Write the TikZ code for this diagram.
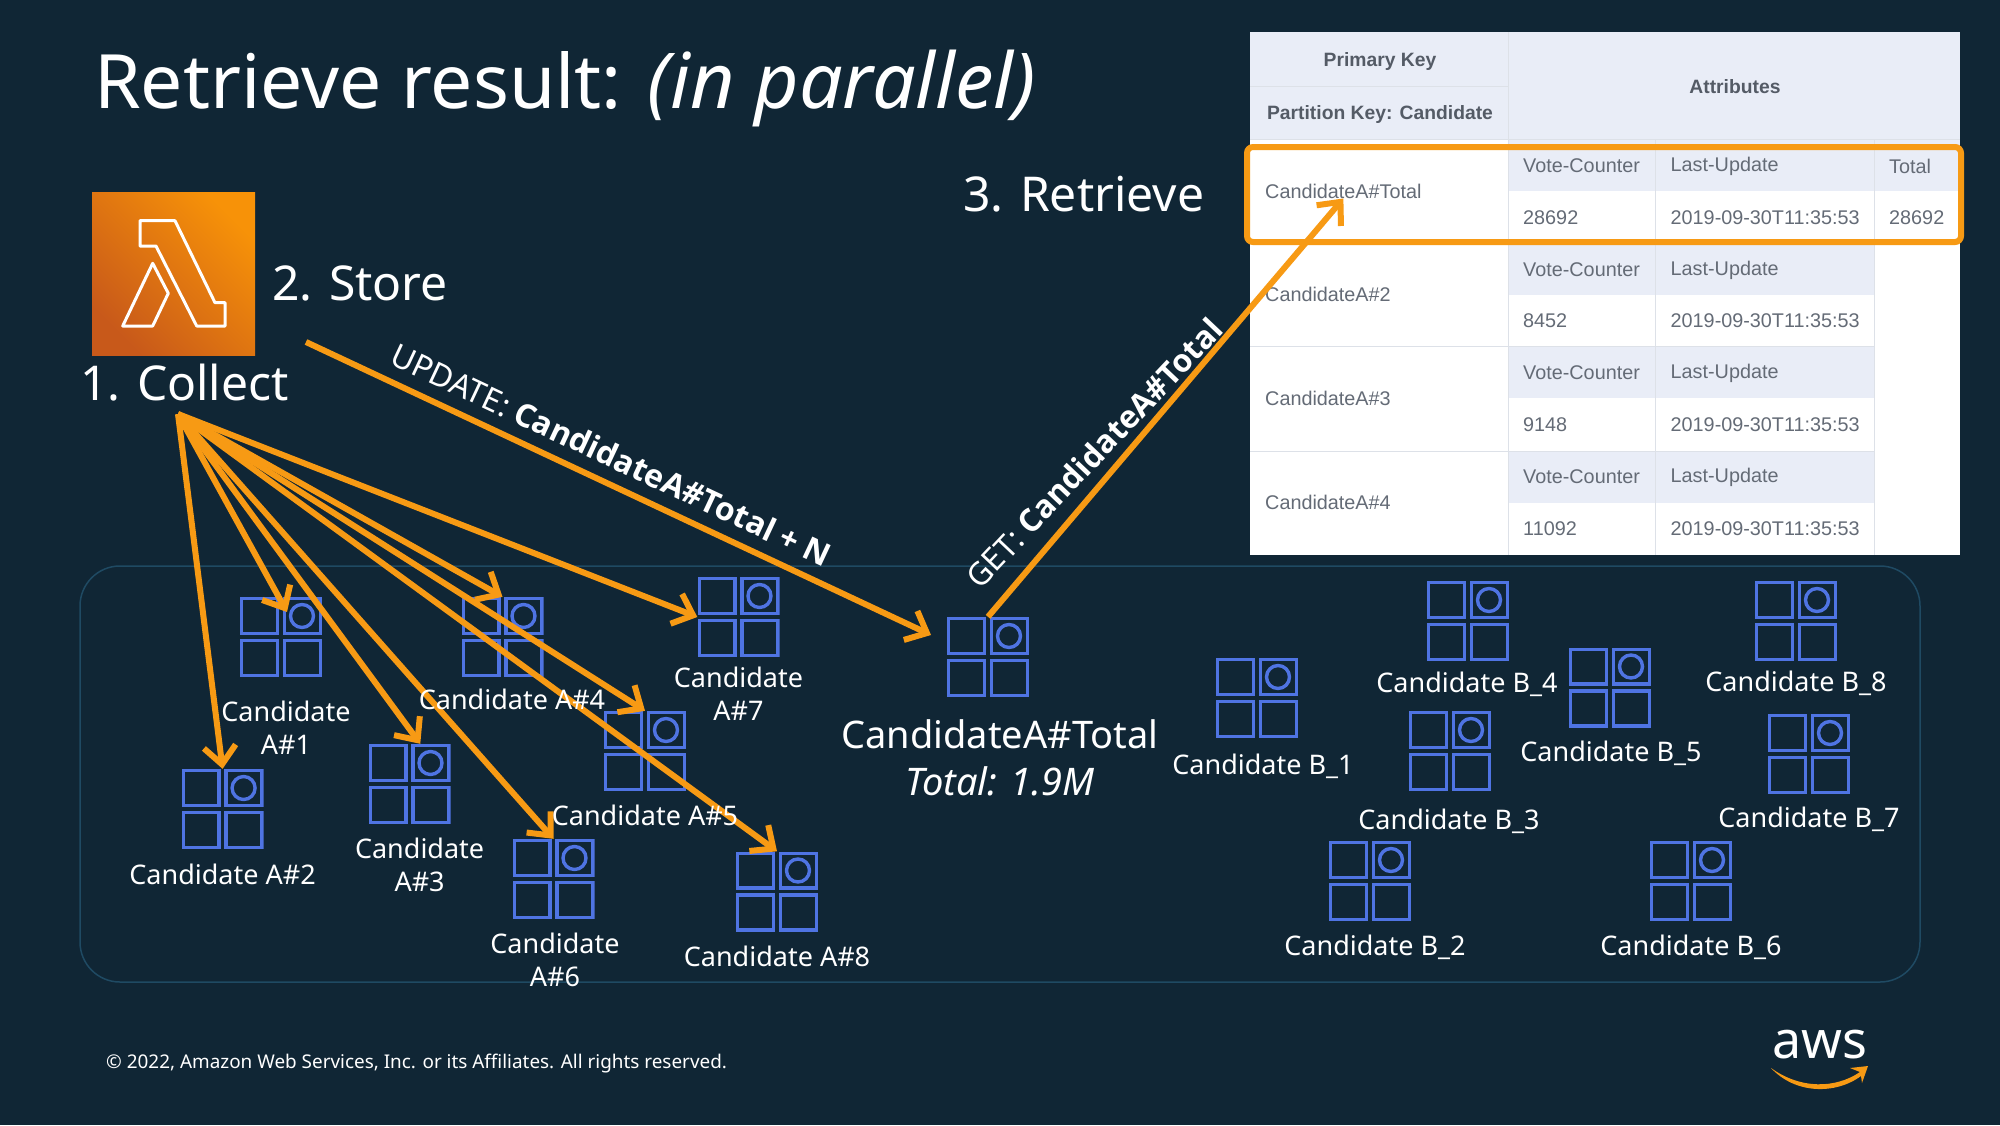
\documentclass[tikz,border=0pt]{standalone}
\usepackage{fontspec}
\setmainfont{Noto Sans}
\newfontfamily\tablefont{Liberation Sans}
\newfontfamily\edgebold{Open Sans}
\usepackage{tikz}
\usetikzlibrary{arrows.meta, positioning}
\definecolor{slidebg}{HTML}{102635}
\definecolor{awsorange}{HTML}{F79A14}
\definecolor{iconblue}{HTML}{4F74E3}
\definecolor{groupline}{HTML}{1F4A63}
\definecolor{headfill}{HTML}{E9EDF7}
\definecolor{gridline}{HTML}{DDE1E8}
\definecolor{celltext}{HTML}{646B76}
\definecolor{headtext}{HTML}{545B66}
\definecolor{lambdalow}{HTML}{C8591A}
\definecolor{lambdahigh}{HTML}{F79208}

\begin{document}
\begin{tikzpicture}[
      x=1pt, y=-1pt,
      dbicon/.style={minimum width=82pt, minimum height=80pt, inner sep=0pt, path picture={
        \begin{scope}[shift={(path picture bounding box.center)}, iconblue, line width=3.4pt]
          \draw (-39.3,-38.3) rectangle (-3.5,-3.5);
          \draw (3.5,-38.3) rectangle (39.3,-3.5);
          \draw (-39.3,3.5) rectangle (-3.5,38.3);
          \draw (3.5,3.5) rectangle (39.3,38.3);
          \draw (21,-21) circle (11.5pt);
        \end{scope}}},
      cand/.style={align=center, text=white, inner sep=0pt, font=\fontsize{27}{33}\selectfont},
      step text/.style={anchor=base west, text=white, inner sep=0pt, font=\fontsize{48}{52}\selectfont},
      cell/.style={anchor=west, inner sep=0pt, text=celltext, font=\tablefont\fontsize{19.8}{24}\selectfont},
      headcell/.style={inner sep=0pt, text=headtext, font=\tablefont\bfseries\fontsize{19.3}{24}\selectfont},
      edgetext/.style={text=white, inner sep=5pt, font=\fontsize{32}{36}\selectfont},
      arrow/.style={awsorange, line width=6pt, -{Straight Barb[length=18pt, width=32pt]}}
    ]
    \useasboundingbox (0,0) rectangle (2000,1125);
    \fill[slidebg] (0,0) rectangle (2000,1125);
    \node[anchor=base west, text=white, inner sep=0pt, font=\fontsize{75}{80}\selectfont] (title) at (94,108) {Retrieve result: {\fontsize{77}{80}\selectfont\textit{(in parallel)}}};
    \node[draw=groupline, line width=1.5pt, rounded corners=40pt, minimum width=1840pt, minimum height=416pt] (group) at (1000,774) {};

    % lambda box
    \node[minimum width=163pt, minimum height=163pt, inner sep=0pt, bottom color=lambdalow, top color=lambdahigh, shading angle=-45] (lambda) at (173.5,273.5) {};
    \draw[white, line width=3pt, line join=round] (140,220.7) -- (175,220.7) -- (215,302.7) -- (225,302.7) -- (225,326) -- (196.7,326) -- (156,246) -- (140,246) -- cycle;
    \draw[white, line width=3pt, line join=round] (152.7,263.3) -- (122.7,326) -- (152.7,326) -- (168.3,293.3) -- cycle;
    \node[step text] (collect) at (80,400) {1. Collect};
    \node[step text] (store) at (272,300) {2. Store};
    \node[step text] (retrieve) at (963,211) {3. Retrieve};

    % table
    \fill[headfill] (1250,32) rectangle (1960,139);
    \fill[white] (1250,139) rectangle (1960,555);
    \fill[headfill] (1508,139) rectangle (1960,191);
    \fill[headfill] (1508,241) rectangle (1874,295);
    \fill[headfill] (1508,346) rectangle (1874,398);
    \fill[headfill] (1508,451) rectangle (1874,503);
    \draw[gridline, line width=1pt] (1508,32) -- (1508,555);
    \draw[gridline, line width=1pt] (1655,139) -- (1655,555);
    \draw[gridline, line width=1pt] (1874,139) -- (1874,555);
    \draw[gridline, line width=1pt] (1250,86) -- (1508,86);
    \draw[gridline, line width=1pt] (1250,139) -- (1960,139);
    \draw[gridline, line width=1pt] (1250,241) -- (1874,241);
    \draw[gridline, line width=1pt] (1250,346) -- (1874,346);
    \draw[gridline, line width=1pt] (1250,451) -- (1874,451);
    \node[headcell] (pk) at (1380,61.5) {Primary Key};
    \node[headcell] (partkey) at (1380,115) {Partition Key: Candidate};
    \node[headcell] (attrs) at (1735,87) {Attributes};
    \node[cell] (keytotal) at (1265,191) {CandidateA\#Total};
    \node[cell] (key2) at (1265,294.5) {CandidateA\#2};
    \node[cell] (key3) at (1265,398) {CandidateA\#3};
    \node[cell] (key4) at (1265,502) {CandidateA\#4};
    \node[cell] (vote1) at (1523,166) {Vote-Counter};
    \node[cell] (last1) at (1670.5,166) {Last-Update};
    \node[cell] (tot1) at (1889,166) {Total};
    \node[cell] (val1) at (1523,218) {28692};
    \node[cell] (time1) at (1670.5,218) {2019-09-30T11:35:53};
    \node[cell] (totv1) at (1889,218) {28692};
    \node[cell] (vote2) at (1523,270) {Vote-Counter};
    \node[cell] (last2) at (1670.5,270) {Last-Update};
    \node[cell] (val2) at (1523,321) {8452};
    \node[cell] (time2) at (1670.5,321) {2019-09-30T11:35:53};
    \node[cell] (vote3) at (1523,373) {Vote-Counter};
    \node[cell] (last3) at (1670.5,373) {Last-Update};
    \node[cell] (val3) at (1523,425) {9148};
    \node[cell] (time3) at (1670.5,425) {2019-09-30T11:35:53};
    \node[cell] (vote4) at (1523,477) {Vote-Counter};
    \node[cell] (last4) at (1670.5,477) {Last-Update};
    \node[cell] (val4) at (1523,529) {11092};
    \node[cell] (time4) at (1670.5,529) {2019-09-30T11:35:53};
    \draw[awsorange, line width=6pt, rounded corners=6pt] (1247,147) rectangle (1961,242);

    % candidates A
    \node[dbicon] (a1) at (281,637) {};
    \node[dbicon] (a2) at (222.6,809) {};
    \node[dbicon] (a3) at (409.5,784) {};
    \node[dbicon] (a4) at (502.5,637) {};
    \node[dbicon] (a5) at (645,751) {};
    \node[dbicon] (a6) at (553.5,879) {};
    \node[dbicon] (a7) at (738.5,617) {};
    \node[dbicon] (a8) at (777,891.5) {};
    \node[dbicon] (total) at (988,657) {};

    % arrows
    \coordinate (fan) at (178,414);
    \coordinate (a1tip) at (287,612);
    \coordinate (updfrom) at (306,342);
    \coordinate (updto) at (931,635);
    \path[arrow] (fan) edge (a1tip);
    \path[arrow] (fan) edge (a2.north);
    \path[arrow] (fan) edge (a3.75);
    \path[arrow] (fan) edge (a4.north);
    \path[arrow] (fan) edge (a5.north);
    \path[arrow] (fan) edge (a6.north);
    \path[arrow] (fan) edge (a7.west);
    \path[arrow] (fan) edge (a8.north);
    \path[arrow] (updfrom) edge node[edgetext, inner sep=12pt, pos=.47, sloped, above]{UPDATE: {\edgebold\bfseries CandidateA\#Total + N}} (updto);
    \path[arrow] (total.north) edge (keytotal.south);
    \node[edgetext, rotate=46.6, font=\fontsize{31.6}{36}\selectfont] (gettext) at (1094,453) {GET: {\edgebold\bfseries CandidateA\#Total}};

    \node[cand] (la1) at (286,728) {Candidate\\A\#1};
    \node[cand] (la2) at (222.6,874) {Candidate A\#2};
    \node[cand] (la3) at (419.6,865) {Candidate\\A\#3};
    \node[cand] (la4) at (512,699) {Candidate A\#4};
    \node[cand] (la5) at (645,815) {Candidate A\#5};
    \node[cand] (la6) at (555,960) {Candidate\\A\#6};
    \node[cand] (la7) at (738.5,694) {Candidate\\A\#7};
    \node[cand] (la8) at (777,956) {Candidate A\#8};
    \node[cand, font=\fontsize{38}{47}\selectfont] (ltotal) at (1000,758) {CandidateA\#Total\\\textit{Total: 1.9M}};

    % candidates B
    \node[dbicon] (b1) at (1257,698) {};
    \node[dbicon] (b2) at (1370,881) {};
    \node[dbicon] (b3) at (1450,751) {};
    \node[dbicon] (b4) at (1468,621) {};
    \node[dbicon] (b5) at (1610,687.5) {};
    \node[dbicon] (b6) at (1691,881) {};
    \node[dbicon] (b7) at (1809,754) {};
    \node[dbicon] (b8) at (1796,621) {};
    \node[cand] (lb1) at (1263,766.5) {Candidate B\_1};
    \node[cand] (lb2) at (1375,947.5) {Candidate B\_2};
    \node[cand] (lb3) at (1449,821.5) {Candidate B\_3};
    \node[cand] (lb4) at (1467,684.5) {Candidate B\_4};
    \node[cand] (lb5) at (1611,753.5) {Candidate B\_5};
    \node[cand] (lb6) at (1691,947.5) {Candidate B\_6};
    \node[cand] (lb7) at (1809,819) {Candidate B\_7};
    \node[cand] (lb8) at (1796,683.5) {Candidate B\_8};

    % footer
    \node[anchor=base west, text=white, inner sep=0pt, font=\fontsize{18.9}{22}\selectfont] (copyright) at (106,1068) {© 2022, Amazon Web Services, Inc. or its Affiliates. All rights reserved.};
    \node[anchor=base, text=white, inner sep=0pt, font=\fontsize{52}{56}\selectfont] (awslogo) at (1820,1058) {aws};
    \fill[awsorange] (1771,1068) .. controls (1800,1089) and (1835,1089) .. (1860,1072) -- (1850,1068) -- (1868,1066) -- (1862,1083) -- (1861,1076) .. controls (1835,1095) and (1795,1094) .. (1771,1068) -- cycle;
  \end{tikzpicture}
\end{document}
